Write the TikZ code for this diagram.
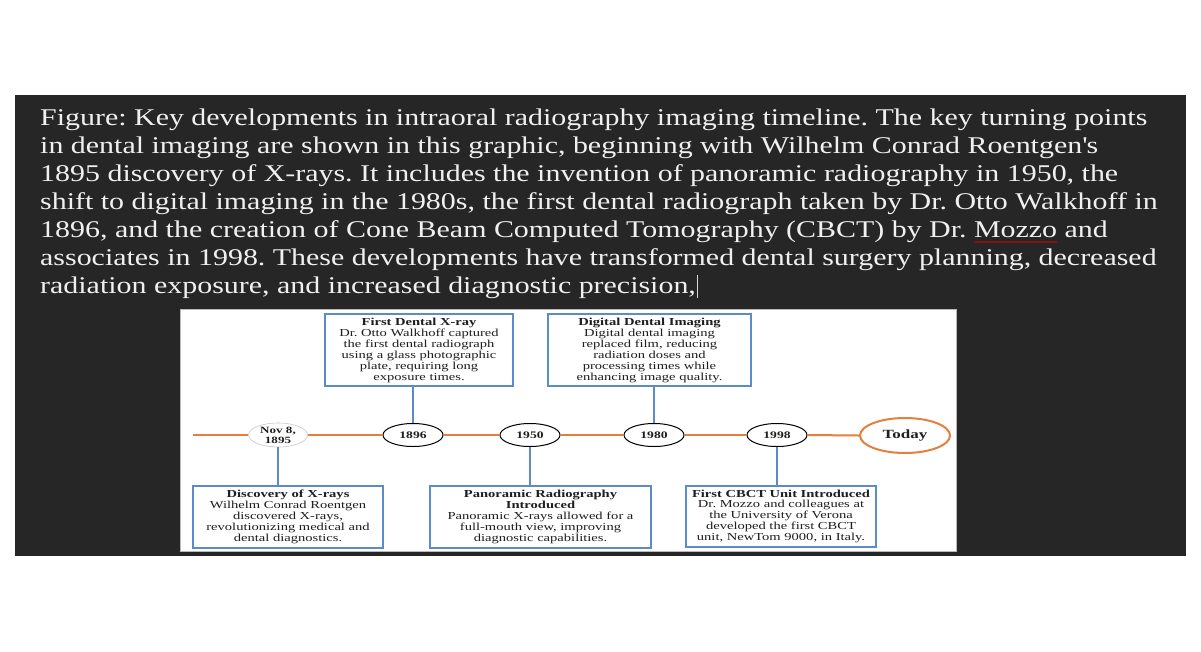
\documentclass[tikz,border=0pt]{standalone}
\usepackage{fontspec}
\setmainfont{Liberation Serif}
\newfontfamily\capfont[FakeStretch=1.247]{Liberation Serif}
\newfontfamily\tlfont[FakeStretch=1.36]{Liberation Serif}
\usetikzlibrary{positioning,shapes.geometric,decorations.pathmorphing}
\definecolor{tldark}{RGB}{38,38,38}
\definecolor{tlblue}{RGB}{91,139,201}
\definecolor{tlorange}{RGB}{226,128,60}
\definecolor{tltext}{RGB}{30,30,30}
\definecolor{tlrim}{RGB}{200,200,200}
\frenchspacing
\newlength\spellw
\newcommand\spellwave[1]{\settowidth\spellw{#1}\rlap{\tikz[baseline=0pt]\draw[red!85!black, line width=0.5pt, decorate,
    decoration={zigzag, amplitude=0.6pt, segment length=2pt}] (0pt,-5pt) -- (\spellw,-5pt);}#1}
\newcommand\cursorbar{\hspace{1.5pt}\textcolor{white!85!black}{\rule[-5pt]{0.8pt}{23pt}}}
\tikzset{
  capline/.style={anchor=base west, inner sep=0pt, text=white!94!black,
                  font=\capfont\fontsize{24}{28}\selectfont},
  evbox/.style={rectangle, draw=tlblue, line width=1.6pt, fill=white, text=tltext,
                align=center, inner sep=2pt, font=\tlfont\fontsize{10.7}{10.9}\selectfont},
  yr/.style={ellipse, draw=black, line width=1pt, fill=white, text=tltext, align=center,
             minimum width=60pt, minimum height=23pt, inner sep=0pt,
             font=\tlfont\bfseries\fontsize{10}{10.5}\selectfont},
  stem/.style={draw=tlblue, line width=1.6pt},
  axis/.style={draw=tlorange, line width=2pt},
}

\begin{document}
\begin{tikzpicture}[x=1pt,y=-1pt]
    \useasboundingbox (0,0) rectangle (1201,651);
    \fill[white] (0,0) rectangle (1201,651);
    \fill[tldark] (15,95) rectangle (1186,556);
    % caption
    \foreach \txt [count=\i] in {%
        {Figure: Key developments in intraoral radiography imaging timeline. The key turning points},
        {in dental imaging are shown in this graphic, beginning with Wilhelm Conrad Roentgen\textquotesingle s},
        {1895 discovery of X-rays. It includes the invention of panoramic radiography in 1950, the},
        {shift to digital imaging in the 1980s, the first dental radiograph taken by Dr. Otto Walkhoff in},
        {1896, and the creation of Cone Beam Computed Tomography (CBCT) by Dr. \spellwave{Mozzo} and},
        {associates in 1998. These developments have transformed dental surgery planning, decreased},
        {radiation exposure, and increased diagnostic precision,\cursorbar}}
        \node[capline] (cap\i) at (40,{97+28*\i}) {\txt};
    % panel
    \draw[gray!55, fill=white] (180,309) rectangle (956,551);
    % timeline
    \coordinate (tlstart) at (193,435);
    \node[yr, draw=tlrim, line width=0.6pt, minimum width=59pt, minimum height=24pt,
          font=\tlfont\bfseries\fontsize{9.6}{10}\selectfont] (nov) at (278,435) {Nov 8,\\1895};
    \node[yr] (y1896) at (413,435) {1896};
    \node[yr] (y1950) at (530,435) {1950};
    \node[yr] (y1980) at (654,435) {1980};
    \node[yr] (y1998) at (777,435) {1998};
    \node[yr, draw=tlorange, line width=2pt, minimum width=90pt, minimum height=35pt,
          font=\tlfont\bfseries\fontsize{12.5}{13}\selectfont] (today) at (905,435.5) {Today};
    \draw[axis] (tlstart) -- (nov.west);
    \draw[axis] (nov.east) -- (y1896.west);
    \draw[axis] (y1896.east) -- (y1950.west);
    \draw[axis] (y1950.east) -- (y1980.west);
    \draw[axis] (y1980.east) -- (y1998.west);
    \draw[axis] (y1998.east) -- (today.west);
    % upper events
    \node[evbox, minimum width=188pt, minimum height=72pt, above=36pt of y1896, xshift=6pt] (fdx)
        {\textbf{First Dental X-ray}\\Dr. Otto Walkhoff captured\\the first dental radiograph\\using a glass photographic\\plate, requiring long\\exposure times.};
    \node[evbox, minimum width=203pt, minimum height=72pt, above=36pt of y1980, xshift=-4.5pt] (ddi)
        {\textbf{Digital Dental Imaging}\\Digital dental imaging\\replaced film, reducing\\radiation doses and\\processing times while\\enhancing image quality.};
    % lower events
    \node[evbox, minimum width=190pt, minimum height=62pt, below=38pt of nov, xshift=10pt] (dxr)
        {\textbf{Discovery of X-rays}\\Wilhelm Conrad Roentgen\\discovered X-rays,\\revolutionizing medical and\\dental diagnostics.};
    \node[evbox, minimum width=221pt, minimum height=62pt, below=38pt of y1950, xshift=10.5pt] (pan)
        {\textbf{Panoramic Radiography}\\\textbf{Introduced}\\Panoramic X-rays allowed for a\\full-mouth view, improving\\diagnostic capabilities.};
    \node[evbox, minimum width=190pt, minimum height=61pt, below=38pt of y1998, xshift=4pt] (cbct)
        {\textbf{First CBCT Unit Introduced}\\Dr. Mozzo and colleagues at\\the University of Verona\\developed the first CBCT\\unit, NewTom 9000, in Italy.};
    \draw[stem] (fdx.south -| y1896) -- (y1896.north);
    \draw[stem] (ddi.south -| y1980) -- (y1980.north);
    \draw[stem] (nov.south) -- (dxr.north -| nov);
    \draw[stem] (y1950.south) -- (pan.north -| y1950);
    \draw[stem] (y1998.south) -- (cbct.north -| y1998);
\end{tikzpicture}
\end{document}
